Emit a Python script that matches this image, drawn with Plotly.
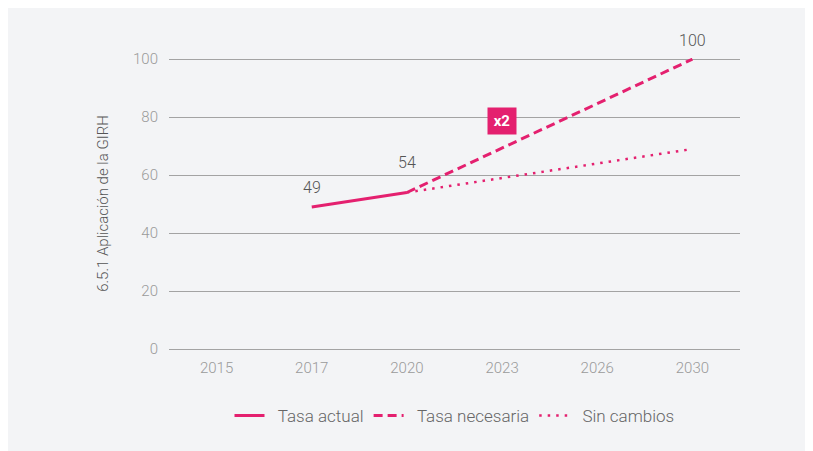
import plotly.graph_objects as go

years = ["2015", "2017", "2020", "2023", "2026", "2030"]
actual_x = ["2017", "2020"]
actual_y = [49, 54]
needed_x = ["2020", "2030"]
needed_y = [54, 100]
nochange_x = ["2020", "2030"]
nochange_y = [54, 69]
yticks = [0, 20, 40, 60, 80, 100]

PINK = "#e4206f"
BG = "#f3f4f6"

def pos(labels):
    return [years.index(v) for v in labels]

fig = go.Figure()
fig.add_trace(go.Scatter(x=pos(actual_x), y=actual_y, mode="lines", name="\u00a0\u00a0Tasa actual",
                         line=dict(color=PINK, width=3)))
fig.add_trace(go.Scatter(x=pos(needed_x), y=needed_y, mode="lines", name="\u00a0\u00a0Tasa necesaria",
                         line=dict(color=PINK, width=3, dash="9px,5px")))
fig.add_trace(go.Scatter(x=pos(nochange_x), y=nochange_y, mode="lines", name="\u00a0\u00a0Sin cambios",
                         line=dict(color=PINK, width=2.5, dash="2.5px,6px")))

for xl, y, shift in [(actual_x[0], actual_y[0], 19), (actual_x[1], actual_y[1], 30),
                     (needed_x[1], needed_y[1], 19)]:
    fig.add_annotation(x=years.index(xl), y=y, text=str(y), showarrow=False, yshift=shift,
                       font=dict(size=16, color="#555555", weight=300))

fig.add_annotation(x=years.index("2023"), y=78.8, text="<b>x2</b>", showarrow=False,
                   bgcolor=PINK, font=dict(size=15, color="white"),
                   borderpad=3, width=22, height=20)

fig.update_layout(
    width=830, height=451,
    margin=dict(l=161, r=98, t=50, b=110),
    paper_bgcolor=BG, plot_bgcolor=BG,
    font=dict(family="Roboto", color="#666666", weight=300),
    showlegend=True,
    legend=dict(orientation="h", x=0.5, xanchor="center", y=-0.23, yanchor="middle",
                font=dict(size=17, color="#666666", weight=300),
                bgcolor="rgba(0,0,0,0)"),
    xaxis=dict(tickmode="array", tickvals=list(range(len(years))), ticktext=years,
               range=[-0.5, 5.5], showgrid=False, zeroline=False,
               showline=False, ticks="", tickfont=dict(size=15, color="#9a9a9a", weight=300),
               ticklabelstandoff=8),
    yaxis=dict(range=[0, 100.4], tickvals=yticks, showgrid=True, gridcolor="#a3a3a3",
               gridwidth=1, zeroline=True, zerolinecolor="#a3a3a3", zerolinewidth=1,
               showline=False, ticks="", tickfont=dict(size=15, color="#9a9a9a", weight=300),
               ticklabelstandoff=10,
               title=dict(text="6.5.1 Aplicación de la GIRH",
                          font=dict(size=15, color="#555555", weight=300),
                          standoff=20)),
)
fig.update_traces(cliponaxis=False)

fig.write_html("out.html")
